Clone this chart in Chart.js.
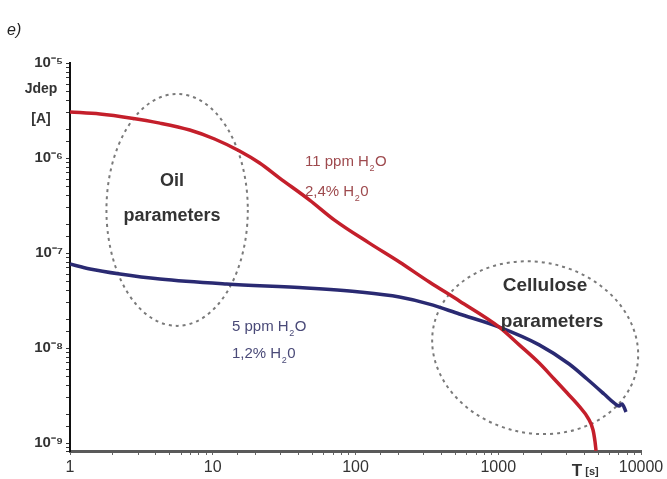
<!DOCTYPE html>
<html>
<head>
<meta charset="utf-8">
<script src="https://cdn.jsdelivr.net/npm/chart.js@4.4.0/dist/chart.umd.min.js"></script>
<style>
  html, body { margin: 0; padding: 0; background: #fff; }
  #wrap { width: 667px; height: 479px; position: relative; }
</style>
</head>
<body>
<div id="wrap"><canvas id="chart"></canvas></div>
<script>
// time in seconds and depolarisation current in A
var redTime = [1, 1.62, 2.63, 4.26, 6.9, 10.3, 15.4, 21.3, 29.4, 47.7, 71.3, 125, 203, 329, 534, 1016, 1403, 1936, 2465, 3040, 3683, 4258, 4613, 4764, 4842];
var redCurrent = [3.05e-6, 2.9e-6, 2.64e-6, 2.33e-6, 1.97e-6, 1.585e-6, 1.185e-6, 8.86e-7, 6.15e-7, 3.61e-7, 2.22e-7, 1.27e-7, 8.04e-8, 4.95e-8, 3.13e-8, 1.66e-8, 1.08e-8, 6.95e-9, 4.72e-9, 3.36e-9, 2.45e-9, 1.83e-9, 1.37e-9, 1.03e-9, 8.3e-10];

var blueTime = [1, 1.38, 2.24, 4.26, 12.5, 45.4, 107, 203, 329, 534, 1016, 1936, 3139, 4190, 5512, 6471, 7015, 7360, 7852];
var blueCurrent = [7.66e-8, 6.79e-8, 6.01e-8, 5.32e-8, 4.72e-8, 4.28e-8, 3.88e-8, 3.44e-8, 2.9e-8, 2.28e-8, 1.66e-8, 1.08e-8, 6.79e-9, 4.72e-9, 3.28e-9, 2.64e-9, 2.45e-9, 2.58e-9, 2.12e-9];

var xTicks = [1, 10, 100, 1000, 10000];
var yTicks = [1e-9, 1e-8, 1e-7, 1e-6, 1e-5];
var yTickLabels = ['10⁻⁹', '10⁻⁸', '10⁻⁷', '10⁻⁶', '10⁻⁵'];

// dashed ellipses, given as data ranges
var ellipses = [
  { xMin: 1.8, xMax: 17.6, yMin: 1.71e-8, yMax: 4.72e-6, rot: 0 },
  { xMin: 340, xMax: 9680, yMin: 1.27e-9, yMax: 8.0e-8, rot: 0.22 }
];

Chart.defaults.font.family = "'Liberation Sans', Arial, sans-serif";

function toPoints(xs, ys) {
  return xs.map(function (x, i) { return { x: x, y: ys[i] }; });
}

function isDecade(v) {
  var l = Math.log10(v);
  return Math.abs(l - Math.round(l)) < 1e-6;
}

// draws text with an optional subscript part
function drawRuns(ctx, runs, x, y, size, color) {
  ctx.fillStyle = color;
  ctx.textBaseline = 'alphabetic';
  ctx.textAlign = 'left';
  runs.forEach(function (r) {
    if (r.sub) {
      ctx.font = Math.round(size * 0.62) + "px 'Liberation Sans', Arial";
      ctx.fillText(r.t, x, y + size * 0.3);
    } else {
      ctx.font = size + "px 'Liberation Sans', Arial";
      ctx.fillText(r.t, x, y);
    }
    x += ctx.measureText(r.t).width + 0.5;
  });
}

var decorations = {
  id: 'decorations',
  beforeDatasetsDraw: function (chart) {
    var ctx = chart.ctx, xs = chart.scales.x, ys = chart.scales.y;
    ctx.save();
    ctx.strokeStyle = '#7a7a7a';
    ctx.lineWidth = 2;
    ctx.setLineDash([3, 4]);
    ellipses.forEach(function (e) {
      var x1 = xs.getPixelForValue(e.xMin), x2 = xs.getPixelForValue(e.xMax);
      var y1 = ys.getPixelForValue(e.yMax), y2 = ys.getPixelForValue(e.yMin);
      ctx.beginPath();
      ctx.ellipse((x1 + x2) / 2, (y1 + y2) / 2, (x2 - x1) / 2, (y2 - y1) / 2, e.rot, 0, Math.PI * 2);
      ctx.stroke();
    });
    ctx.restore();
  },
  afterDraw: function (chart) {
    var ctx = chart.ctx;
    ctx.save();
    ctx.fillStyle = '#222';
    ctx.font = "italic 16px 'Liberation Sans', Arial";
    ctx.textAlign = 'left';
    ctx.textBaseline = 'alphabetic';
    ctx.fillText('e)', 7, 35);

    ctx.fillStyle = '#333';
    ctx.font = "bold 14px 'Liberation Sans', Arial";
    ctx.textAlign = 'center';
    ctx.fillText('Jdep', 41, 93);
    ctx.fillText('[A]', 41, 123);

    ctx.font = "bold 18px 'Liberation Sans', Arial";
    ctx.fillText('Oil', 172, 186);
    ctx.fillText('parameters', 172, 221);
    ctx.font = "bold 19px 'Liberation Sans', Arial";
    ctx.fillText('Cellulose', 545, 291);
    ctx.fillText('parameters', 552, 327);

    ctx.font = "bold 17px 'Liberation Sans', Arial";
    ctx.fillText('T', 577, 476);
    ctx.font = "bold 11px 'Liberation Sans', Arial";
    ctx.fillText('[s]', 592, 475);

    drawRuns(ctx, [{ t: '11 ppm H' }, { t: '2', sub: true }, { t: 'O' }], 305, 166, 15, '#9e4a4e');
    drawRuns(ctx, [{ t: '2,4% H' }, { t: '2', sub: true }, { t: '0' }], 305, 196, 15, '#9e4a4e');
    drawRuns(ctx, [{ t: '5 ppm H' }, { t: '2', sub: true }, { t: 'O' }], 232, 331, 15, '#4a4a78');
    drawRuns(ctx, [{ t: '1,2% H' }, { t: '2', sub: true }, { t: '0' }], 232, 358, 15, '#4a4a78');
    ctx.restore();
  }
};

var ctx = document.getElementById('chart').getContext('2d');
new Chart(ctx, {
  type: 'line',
  data: {
    datasets: [
      {
        label: '11 ppm',
        data: toPoints(redTime, redCurrent),
        borderColor: '#c41f2b',
        borderWidth: 3.5,
        pointRadius: 0,
        cubicInterpolationMode: 'monotone',
        fill: false
      },
      {
        label: '5 ppm',
        data: toPoints(blueTime, blueCurrent),
        borderColor: '#2a2a72',
        borderWidth: 3.5,
        pointRadius: 0,
        cubicInterpolationMode: 'monotone',
        fill: false
      }
    ]
  },
  options: {
    responsive: true,
    maintainAspectRatio: false,
    animation: false,
    layout: { padding: { top: 63, right: 26, left: 0, bottom: 0 } },
    plugins: { legend: { display: false }, tooltip: { enabled: false } },
    scales: {
      x: {
        type: 'logarithmic',
        min: 1,
        max: 10000,
        afterFit: function (s) { s.height = 28; },
        border: { color: '#5a5a5a', width: 3 },
        grid: { drawOnChartArea: false, tickLength: 4, tickColor: '#666' },
        ticks: {
          autoSkip: false,
          maxRotation: 0,
          padding: 3,
          color: '#333',
          font: { size: 16 },
          callback: function (v) { return xTicks.indexOf(v) >= 0 ? String(v) : ''; }
        }
      },
      y: {
        type: 'logarithmic',
        min: Math.pow(10, -9.084),
        max: 1e-5,
        afterFit: function (s) { s.width = 70; },
        border: { color: '#111', width: 2 },
        grid: { drawOnChartArea: false, tickLength: 4, tickColor: '#333' },
        ticks: {
          autoSkip: false,
          padding: 3,
          color: '#333',
          font: { size: 15, weight: 'bold' },
          callback: function (v) {
            if (!isDecade(v)) return '';
            var i = yTicks.findIndex(function (t) { return Math.abs(Math.log10(t) - Math.log10(v)) < 1e-6; });
            return i >= 0 ? yTickLabels[i] : '';
          }
        }
      }
    }
  },
  plugins: [decorations]
});
</script>
</body>
</html>
